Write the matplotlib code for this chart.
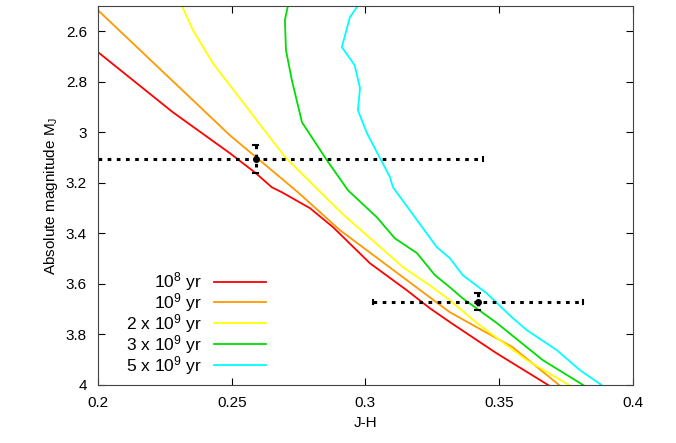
import matplotlib
matplotlib.use("Agg")
import matplotlib.pyplot as plt

plt.rcParams["font.family"] = ["Liberation Sans", "DejaVu Sans"]
plt.rcParams["mathtext.fontset"] = "custom"
plt.rcParams["mathtext.rm"] = "Liberation Sans"
plt.rcParams["mathtext.it"] = "Liberation Sans"

# isochrones (J-H, M_J)
red_x = [0.2, 0.228, 0.2493, 0.259, 0.265, 0.2688, 0.2793, 0.2879, 0.3017, 0.3155, 0.3241, 0.3316, 0.349, 0.3697]
red_y = [2.682, 2.92, 3.082, 3.161, 3.217, 3.237, 3.30, 3.375, 3.518, 3.625, 3.696, 3.751, 3.874, 4.009]
orange_x = [0.2, 0.2493, 0.2748, 0.2905, 0.314, 0.324, 0.3316, 0.355, 0.3735]
orange_y = [2.516, 3.011, 3.237, 3.387, 3.573, 3.652, 3.712, 3.85, 4.009]
yellow_x = [0.2314, 0.2355, 0.243, 0.2493, 0.270, 0.2912, 0.314, 0.324, 0.3316, 0.3417, 0.3604, 0.3776]
yellow_y = [2.5, 2.595, 2.726, 2.813, 3.098, 3.32, 3.533, 3.605, 3.664, 3.755, 3.902, 4.009]
green_x = [0.271, 0.2699, 0.2703, 0.2725, 0.2763, 0.2856, 0.2935, 0.3043, 0.311, 0.3193, 0.326, 0.3316, 0.3364, 0.3492, 0.3664, 0.3828]
green_y = [2.5, 2.555, 2.674, 2.793, 2.96, 3.11, 3.229, 3.336, 3.419, 3.478, 3.565, 3.613, 3.657, 3.755, 3.902, 4.009]
cyan_x = [0.2968, 0.2942, 0.2912, 0.296, 0.298, 0.2972, 0.3006, 0.3092, 0.3103, 0.3193, 0.3267, 0.3316, 0.3364, 0.3454, 0.3548, 0.3604, 0.3716, 0.3802, 0.3895]
cyan_y = [2.504, 2.544, 2.662, 2.734, 2.825, 2.912, 3.003, 3.177, 3.217, 3.347, 3.454, 3.498, 3.565, 3.637, 3.732, 3.783, 3.862, 3.941, 4.009]

labels = [r"$10^8$ yr", r"$10^9$ yr", r"2 x $10^9$ yr", r"3 x $10^9$ yr", r"5 x $10^9$ yr"]
colors = ["#ff0000", "#ff9900", "#ffff00", "#00dd00", "#00ffff"]

# observed points with error ranges
obs_x = [0.259, 0.342]
obs_y = [3.106, 3.672]
obs_xlo = [0.2, 0.3028]
obs_xhi = [0.344, 0.3813]
obs_ylo = [3.05, 3.637]
obs_yhi = [3.16, 3.705]

fig = plt.figure(figsize=(6.76, 4.43), dpi=100)
ax = fig.add_axes([0.145, 0.131, 0.791, 0.855])

curves = [(red_x, red_y), (orange_x, orange_y), (yellow_x, yellow_y),
          (green_x, green_y), (cyan_x, cyan_y)]
for (xs, ys), c, lab in zip(curves, colors, labels):
    ax.plot(xs, ys, color=c, lw=1.3, label=lab)

for x, y, xl, xh, yl, yh in zip(obs_x, obs_y, obs_xlo, obs_xhi, obs_ylo, obs_yhi):
    ax.plot([xl, xh], [y, y], color="black", ls=(0, (1.2, 1.8)), lw=2.2)
    ax.plot([x, x], [yl, yh], color="black", ls=(0, (1.2, 1.8)), lw=2.2)
    ax.plot(x, y, "o", color="black", ms=4)
    for xe in (xl, xh):
        ax.plot([xe, xe], [y - 0.008, y + 0.008], color="black", lw=1.5)
    for ye in (yl, yh):
        ax.plot([x - 0.001, x + 0.001], [ye, ye], color="black", lw=1.5)

ax.set_xlim(0.2, 0.4)
ax.set_ylim(4, 2.5)
ax.set_xticks([0.2, 0.25, 0.3, 0.35, 0.4])
ax.set_xticklabels(["0.2", "0.25", "0.3", "0.35", "0.4"])
ax.set_yticks([2.6, 2.8, 3, 3.2, 3.4, 3.6, 3.8, 4])
ax.set_yticklabels(["2.6", "2.8", "3", "3.2", "3.4", "3.6", "3.8", "4"])
ax.tick_params(direction="in", labelsize=11, top=True, right=True, pad=8, length=5)
for sp in ax.spines.values():
    sp.set_color("#444444")
ax.set_xlabel("J-H", fontsize=11)
ax.set_ylabel(r"Absolute magnitude M$_\mathrm{J}$", fontsize=11)

ax.legend(loc="lower left", bbox_to_anchor=(0.03, -0.01), frameon=False, markerfirst=False,
          fontsize=12.5, handlelength=3.0, labelspacing=-0.12, handletextpad=0.7,
          borderaxespad=0.3)

fig.savefig("out.png", dpi=100)
